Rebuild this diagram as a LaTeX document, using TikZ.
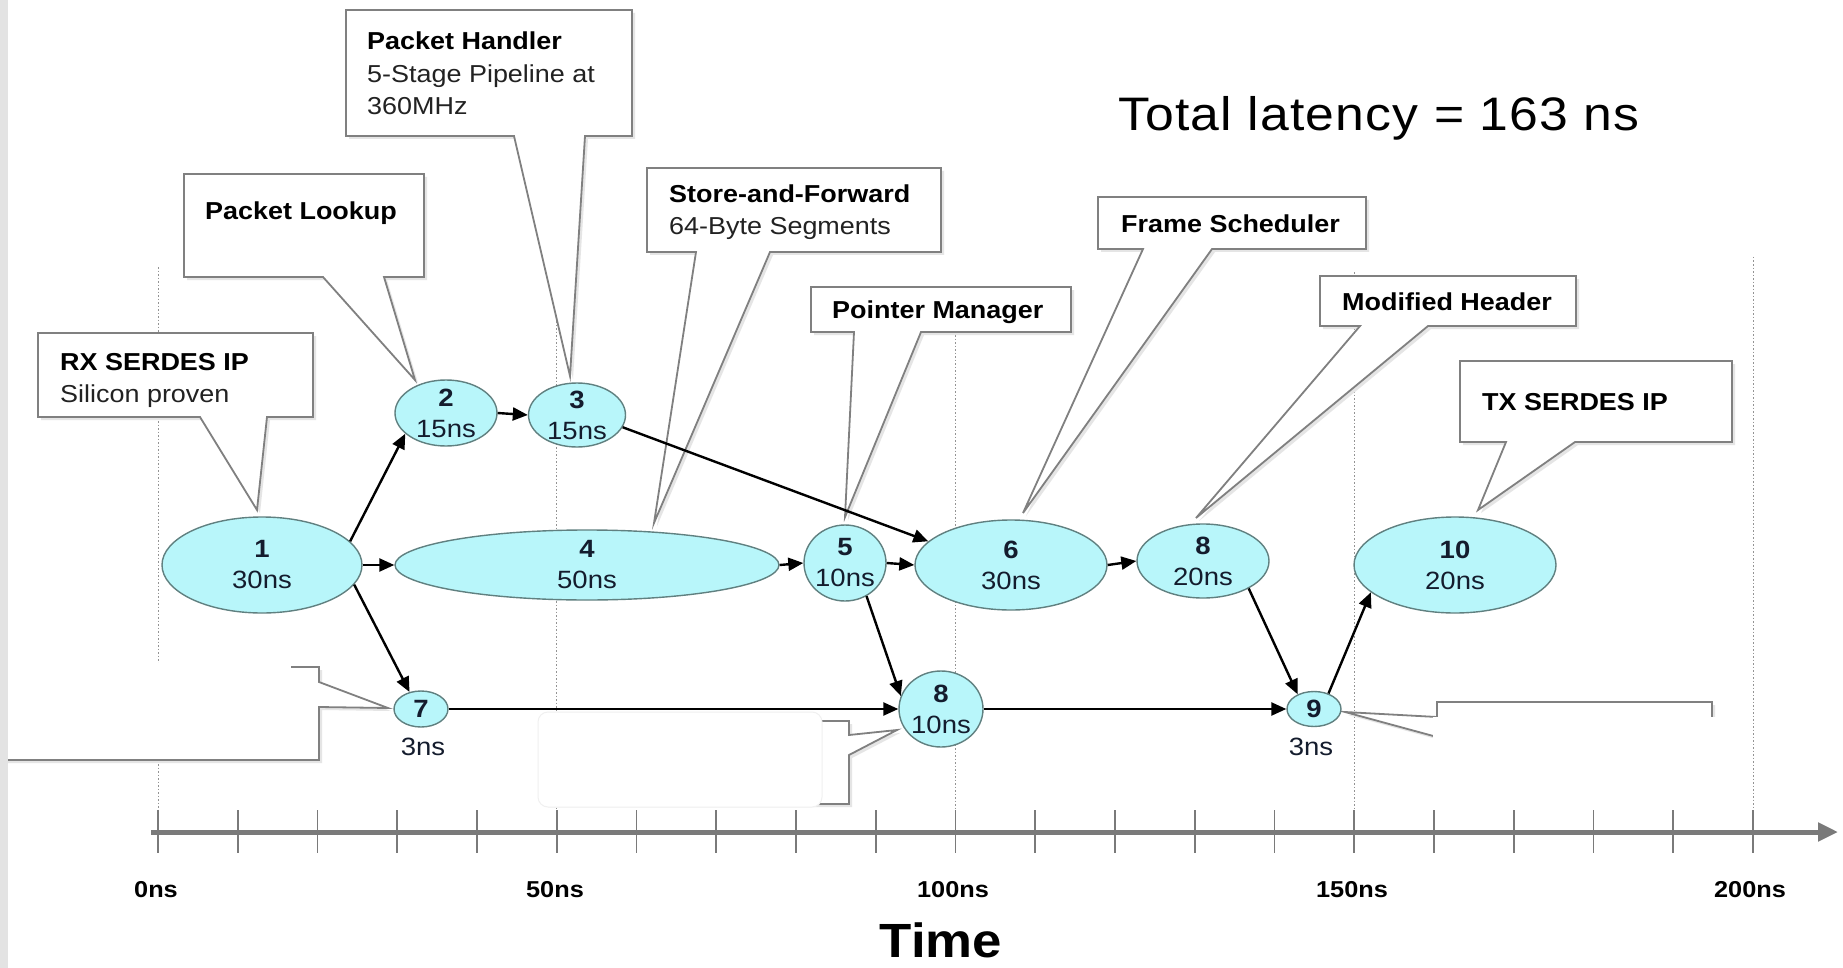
\documentclass[tikz,border=0pt]{standalone}
\usepackage{fontspec}
\setmainfont{Liberation Sans}[FakeStretch=1.1]
\usetikzlibrary{shapes.geometric,arrows.meta}
\definecolor{nodefill}{RGB}{184,246,250}
\definecolor{nodeedge}{RGB}{96,128,128}
\definecolor{nodetext}{RGB}{20,28,45}
\definecolor{calloutedge}{RGB}{128,128,128}
\definecolor{axisgray}{RGB}{122,122,122}
\definecolor{subtext}{RGB}{34,34,34}
\tikzset{
  proc/.style={ellipse, draw=nodeedge, fill=nodefill, line width=1.4pt, inner sep=0pt},
  ntext/.style={align=center, text=nodetext, font=\fontsize{25}{31}\selectfont, inner sep=0pt},
  arr/.style={line width=2.4pt, -{Triangle[length=15pt,width=13pt]}},
  cbox/.style={draw=calloutedge, line width=1.8pt, fill=white, line join=miter},
  cshadow/.style={fill=black!10},
  ctitle/.style={anchor=base west, inner sep=0pt, font=\fontsize{24.5}{30}\selectfont\bfseries, text=black},
  csub/.style={anchor=base west, inner sep=0pt, font=\fontsize{24.5}{30}\selectfont, text=subtext},
  gridline/.style={draw=gray!85, line width=1pt, dash pattern=on 1.5pt off 2pt},
  tickmark/.style={draw=axisgray, line width=1.6pt},
  axisline/.style={draw=axisgray, line width=5pt, -{Triangle[length=20pt,width=18pt]}},
  axlabel/.style={anchor=base, inner sep=0pt, font=\fontsize{23}{28}\selectfont\bfseries},
  blank/.style={fill=white, draw=none},
}
\newcommand{\mycallout}[8]{%
  \fill[cshadow, shift={(3,3)}] (#1,#2) -- (#3,#2) -- (#3,#4) -- (#6,#4) -- (#7,#8) -- (#5,#4) -- (#1,#4) -- cycle;
  \draw[cbox] (#1,#2) -- (#3,#2) -- (#3,#4) -- (#6,#4) -- (#7,#8) -- (#5,#4) -- (#1,#4) -- cycle;
}
\begin{document}
\begin{tikzpicture}[x=1pt, y=-1pt]
\useasboundingbox (0,0) rectangle (1843,968);
\fill[white] (0,0) rectangle (1843,968);

% dotted time grid
\foreach \gx/\gt in {158/267, 556.75/300, 955.5/300, 1354.25/272, 1753/257}
  \draw[gridline] (\gx,\gt) -- (\gx,810);

% axis
\foreach \k in {0,...,20}
  \draw[tickmark] ({158+79.75*\k},810) -- ({158+79.75*\k},853);
\coordinate (axstart) at (151,832);
\coordinate (axend) at (1838,832);
\draw[axisline] (axstart) -- (axend);
\node[axlabel] (t0) at (156,897) {0ns};
\node[axlabel] (t50) at (555,897) {50ns};
\node[axlabel] (t100) at (953,897) {100ns};
\node[axlabel] (t150) at (1352,897) {150ns};
\node[axlabel] (t200) at (1750,897) {200ns};
\node[anchor=base, inner sep=0pt, font=\fontsize{48}{56}\selectfont\bfseries] (timelbl) at (941,957) {Time};

\node[anchor=base west, inner sep=0pt, font=\fontsize{47}{56}\selectfont\addfontfeature{LetterSpace=2.5}] (total) at (1118,131) {Total latency = 163 ns};

% callouts with text
\mycallout{346}{10}{632}{136}{514}{585}{570}{376}
\mycallout{184}{174}{424}{277}{323}{384}{415}{380}
\mycallout{38}{333}{313}{417}{200}{267}{257}{510}
\mycallout{647}{168}{941}{252}{696}{770}{654}{523}
\mycallout{811}{287}{1071}{332}{854}{921}{845}{517}
\mycallout{1098}{197}{1366}{249}{1143}{1212}{1023}{513}
\mycallout{1320}{276}{1576}{326}{1360}{1428}{1196}{518}
\mycallout{1460}{361}{1732}{442}{1506}{1575}{1478}{510}

\node[ctitle] (phA) at (367,50) {Packet Handler};
\node[csub] (phB) at (367,83) {5-Stage Pipeline at};
\node[csub] (phC) at (367,115) {360MHz};
\node[ctitle] (plA) at (205,220) {Packet Lookup};
\node[ctitle] (rxA) at (60,370) {RX SERDES IP};
\node[csub] (rxB) at (60,402) {Silicon proven};
\node[ctitle] (sfA) at (669,203) {Store-and-Forward};
\node[csub] (sfB) at (669,235) {64-Byte Segments};
\node[ctitle] (pmA) at (832,318) {Pointer Manager};
\node[ctitle] (fsA) at (1121,233) {Frame Scheduler};
\node[ctitle] (mhA) at (1342,310) {Modified Header};
\node[ctitle] (txA) at (1482,410) {TX SERDES IP};

% blanked callouts (side tails)
\fill[cshadow, shift={(3,3)}] (4,667) -- (319,667) -- (319,682) -- (388,708) -- (319,707) -- (319,760) -- (4,760) -- cycle;
\draw[cbox] (4,667) -- (319,667) -- (319,682) -- (388,708) -- (319,707) -- (319,760) -- (4,760) -- cycle;
\fill[blank] (2,663) rectangle (291,757);

\fill[cshadow, shift={(3,3)}] (545,721) -- (849,721) -- (849,735) -- (897,730) -- (849,755) -- (849,804) -- (545,804) -- cycle;
\draw[cbox] (545,721) -- (849,721) -- (849,735) -- (897,730) -- (849,755) -- (849,804) -- (545,804) -- cycle;
\filldraw[fill=white, draw=black!6, line width=1pt, rounded corners=10pt] (538,712) rectangle (822,807);

\fill[cshadow, shift={(3,3)}] (1437,702) -- (1712,702) -- (1712,800) -- (1437,800) -- (1437,737) -- (1345,712) -- (1437,717) -- cycle;
\draw[cbox] (1437,702) -- (1712,702) -- (1712,800) -- (1437,800) -- (1437,737) -- (1345,712) -- (1437,717) -- cycle;
\fill[blank] (1433,717) rectangle (1722,808);

% slide edge strip
\fill[gray!22] (0,0) rectangle (8,968);

% process nodes
\node[proc, minimum width=200pt, minimum height=96pt] (n1) at (262,565) {};
\node[proc, minimum width=102pt, minimum height=66pt] (n2) at (446,413) {};
\node[proc, minimum width=97pt, minimum height=64pt] (n3) at (577,415) {};
\node[proc, minimum width=384pt, minimum height=70pt] (n4) at (587,565) {};
\node[proc, minimum width=82pt, minimum height=76pt] (n5) at (845,563) {};
\node[proc, minimum width=192pt, minimum height=90pt] (n6) at (1011,565) {};
\node[proc, minimum width=132pt, minimum height=74pt] (n8a) at (1203,561) {};
\node[proc, minimum width=202pt, minimum height=96pt] (n10) at (1455,565) {};
\node[proc, minimum width=54pt, minimum height=36pt] (n7) at (421,709) {};
\node[proc, minimum width=84pt, minimum height=76pt] (n8b) at (941,709) {};
\node[proc, minimum width=54pt, minimum height=35pt] (n9) at (1314,709) {};

\node[ntext] (n1t) at (n1.center) {\textbf{1}\\30ns};
\node[ntext] (n2t) at (n2.center) {\textbf{2}\\15ns};
\node[ntext] (n3t) at (n3.center) {\textbf{3}\\15ns};
\node[ntext] (n4t) at (n4.center) {\textbf{4}\\50ns};
\node[ntext] (n5t) at (n5.center) {\textbf{5}\\10ns};
\node[ntext] (n6t) at (n6.center) {\textbf{6}\\30ns};
\node[ntext] (n8at) at (n8a.center) {\textbf{8}\\20ns};
\node[ntext] (n10t) at (n10.center) {\textbf{10}\\20ns};
\node[ntext] (n7t) at (n7.center) {\textbf{7}};
\node[ntext] (n8bt) at (n8b.center) {\textbf{8}\\10ns};
\node[ntext] (n9t) at (n9.center) {\textbf{9}};
\node[ntext, anchor=base] (n7d) at (423,755) {3ns};
\node[ntext, anchor=base] (n9d) at (1311,755) {3ns};

% connectors
\draw[arr] (n1.15) -- (n2.207);
\draw[arr] (n1.east) -- (n4.west);
\draw[arr] (n1.-12) -- (n7.124);
\draw[arr] (n2.east) -- (n3.west);
\draw[arr] (n3.-15) -- (n6.164);
\draw[arr] (n4.east) -- (n5.west);
\draw[arr] (n5.east) -- (n6.west);
\draw[arr] (n5.-57) -- (n8b.162);
\draw[arr] (n6.east) -- (n8a.west);
\draw[arr] (n7.east) -- (n8b.west);
\draw[arr] (n8b.east) -- (n9.west);
\draw[arr] (n8a.-31) -- (n9.138);
\draw[arr] (n9.47) -- (n10.198);
\end{tikzpicture}
\end{document}
